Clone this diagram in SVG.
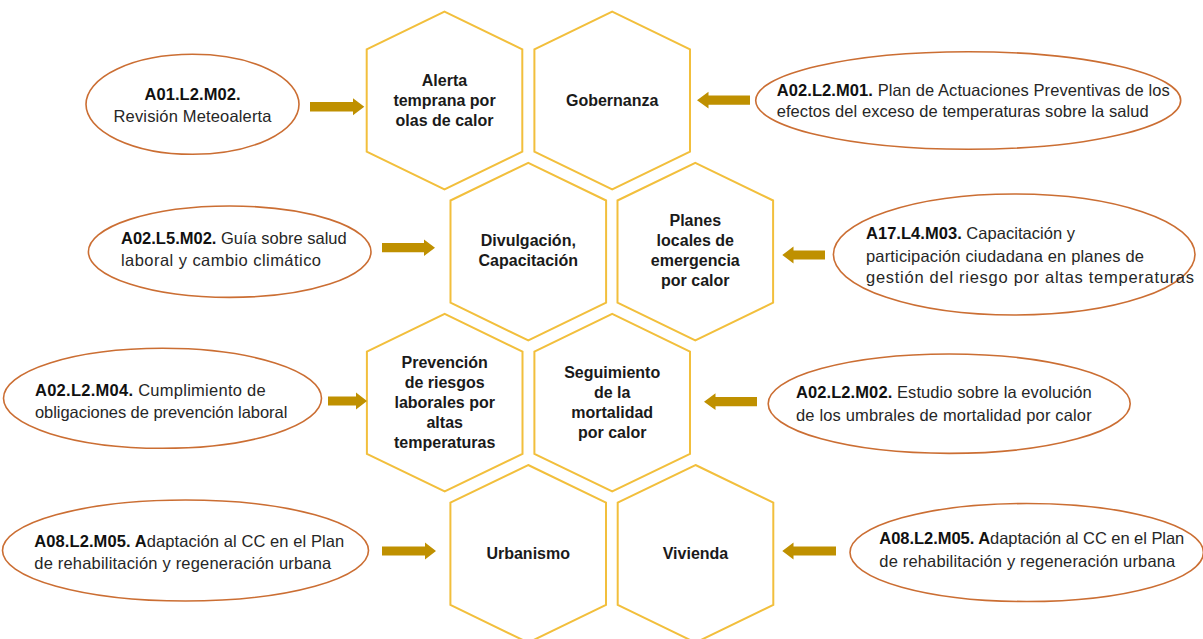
<svg xmlns="http://www.w3.org/2000/svg" xmlns:xlink="http://www.w3.org/1999/xlink" width="1203" height="639" viewBox="0 0 1203 639">
<style>
.hex{fill:#fff;stroke:#F2BF3C;stroke-width:2}
.ell{fill:#fff;stroke:#CB6E33;stroke-width:1.6}
.arr{fill:#BF9000}
.ht{font-family:"Liberation Sans",Arial,sans-serif;font-size:16px;font-weight:bold;fill:#1a1a1a;text-anchor:middle}
.et{font-family:"Liberation Sans",Arial,sans-serif;font-size:16.5px;fill:#262626}
.b{font-weight:bold;fill:#111}
</style>
<defs>
<polygon id="hex" points="0,-88.8 77.8,-51.1 77.8,51.1 0,88.8 -77.8,51.1 -77.8,-51.1"/>
<polygon id="arrR" points="0,-4.6 -11.5,-4.6 -11.5,-8.5 0,0"/>
</defs>
<rect width="1203" height="639" fill="#fff"/>

<g id="hex-alerta"><use xlink:href="#hex" class="hex" x="444.5" y="100.5"/>
<text class="ht" x="444.5" y="86">Alerta<tspan x="444.5" y="106">temprana por</tspan><tspan x="444.5" y="126">olas de calor</tspan></text></g>
<g id="hex-gobernanza"><use xlink:href="#hex" class="hex" x="612.2" y="100.5"/>
<text class="ht" x="612.2" y="106">Gobernanza</text></g>
<g id="hex-divulgacion"><use xlink:href="#hex" class="hex" x="528.3" y="251.6"/>
<text class="ht" x="528.3" y="246">Divulgación,<tspan x="528.3" y="266">Capacitación</tspan></text></g>
<g id="hex-planes"><use xlink:href="#hex" class="hex" x="695.3" y="251.6"/>
<text class="ht" x="695.3" y="226">Planes<tspan x="695.3" y="246">locales de</tspan><tspan x="695.3" y="266">emergencia</tspan><tspan x="695.3" y="286">por calor</tspan></text></g>
<g id="hex-prevencion"><use xlink:href="#hex" class="hex" x="444.7" y="402.7"/>
<text class="ht" x="444.7" y="367.7">Prevención<tspan x="444.7" y="387.7">de riesgos</tspan><tspan x="444.7" y="407.7">laborales por</tspan><tspan x="444.7" y="427.7">altas</tspan><tspan x="444.7" y="447.7">temperaturas</tspan></text></g>
<g id="hex-seguimiento"><use xlink:href="#hex" class="hex" x="612.2" y="402.7"/>
<text class="ht" x="612.2" y="377.7">Seguimiento<tspan x="612.2" y="397.7">de la</tspan><tspan x="612.2" y="417.7">mortalidad</tspan><tspan x="612.2" y="437.7">por calor</tspan></text></g>
<g id="hex-urbanismo"><use xlink:href="#hex" class="hex" x="528.2" y="553.8"/>
<text class="ht" x="528.2" y="559.3">Urbanismo</text></g>
<g id="hex-vivienda"><use xlink:href="#hex" class="hex" x="695.5" y="553.8"/>
<text class="ht" x="695.5" y="559.3">Vivienda</text></g>

<g id="ell-a01l2m02"><ellipse class="ell" cx="192.5" cy="104.3" rx="106.5" ry="50"/>
<text class="et b" x="192.5" y="100" text-anchor="middle" textLength="96" lengthAdjust="spacing">A01.L2.M02.</text>
<text class="et" x="192.5" y="121.7" text-anchor="middle" textLength="158" lengthAdjust="spacing">Revisión Meteoalerta</text></g>

<g id="ell-a02l2m01"><ellipse class="ell" cx="968.2" cy="100.5" rx="212.5" ry="48.8"/>
<text class="et" x="776.7" y="95.7" textLength="393" lengthAdjust="spacing"><tspan class="b">A02.L2.M01.</tspan> Plan de Actuaciones Preventivas de los</text>
<text class="et" x="776.7" y="116.7" textLength="372" lengthAdjust="spacing">efectos del exceso de temperaturas sobre la salud</text></g>

<g id="ell-a02l5m02"><ellipse class="ell" cx="229.7" cy="251.7" rx="141.3" ry="45.7"/>
<text class="et" x="121" y="244" textLength="225.7" lengthAdjust="spacing"><tspan class="b">A02.L5.M02.</tspan> Guía sobre salud</text>
<text class="et" x="121" y="266" textLength="200" lengthAdjust="spacing">laboral y cambio climático</text></g>

<g id="ell-a17l4m03"><ellipse class="ell" cx="1014.2" cy="254.5" rx="180.8" ry="60.5"/>
<text class="et" x="866" y="239" textLength="209" lengthAdjust="spacing"><tspan class="b">A17.L4.M03.</tspan> Capacitación y</text>
<text class="et" x="866" y="261.7" textLength="278" lengthAdjust="spacing">participación ciudadana en planes de</text>
<text class="et" x="866" y="283.3" textLength="328" lengthAdjust="spacing">gestión del riesgo por altas temperaturas</text></g>

<g id="ell-a02l2m04"><ellipse class="ell" cx="162.5" cy="398.3" rx="159" ry="50"/>
<text class="et" x="35" y="396" textLength="230.7" lengthAdjust="spacing"><tspan class="b">A02.L2.M04.</tspan> Cumplimiento de</text>
<text class="et" x="35" y="418.3" textLength="252.3" lengthAdjust="spacing">obligaciones de prevención laboral</text></g>

<g id="ell-a02l2m02"><ellipse class="ell" cx="949.2" cy="403.7" rx="181" ry="49.7"/>
<text class="et" x="796" y="398.3" textLength="295.7" lengthAdjust="spacing"><tspan class="b">A02.L2.M02.</tspan> Estudio sobre la evolución</text>
<text class="et" x="796" y="421" textLength="295.7" lengthAdjust="spacing">de los umbrales de mortalidad por calor</text></g>

<g id="ell-a08l2m05-left"><ellipse class="ell" cx="185.5" cy="550.5" rx="183" ry="50.5"/>
<text class="et" x="34.3" y="546.7" textLength="310" lengthAdjust="spacing"><tspan class="b">A08.L2.M05. A</tspan>daptación al CC en el Plan</text>
<text class="et" x="34.3" y="569" textLength="297" lengthAdjust="spacing">de rehabilitación y regeneración urbana</text></g>

<g id="ell-a08l2m05-right"><ellipse class="ell" cx="1026.7" cy="552.5" rx="176.7" ry="49"/>
<text class="et" x="879.3" y="544.3" textLength="305" lengthAdjust="spacing"><tspan class="b">A08.L2.M05. A</tspan>daptación al CC en el Plan</text>
<text class="et" x="879.3" y="566.7" textLength="296" lengthAdjust="spacing">de rehabilitación y regeneración urbana</text></g>

<g id="connectors">
<polygon class="arr" points="310,102 353,102 353,98.2 364.3,106.7 353,115.2 353,111.4 310,111.4"/>
<polygon class="arr" points="382,243.1 424,243.1 424,239.4 435,247.7 424,256 424,252.3 382,252.3"/>
<polygon class="arr" points="328,396.4 356,396.4 356,392.6 367,401 356,409.4 356,405.6 328,405.6"/>
<polygon class="arr" points="382,546.4 425,546.4 425,542.6 436,551 425,559.4 425,555.6 382,555.6"/>
<polygon class="arr" points="750,95.4 708.5,95.4 708.5,91.7 697,100.2 708.5,108.5 708.5,104.8 750,104.8"/>
<polygon class="arr" points="825,250.4 793.5,250.4 793.5,246.6 782.3,255 793.5,263.4 793.5,259.6 825,259.6"/>
<polygon class="arr" points="757,397.1 715.5,397.1 715.5,393.3 704,401.7 715.5,410.1 715.5,406.3 757,406.3"/>
<polygon class="arr" points="836,546.4 793.5,546.4 793.5,542.6 782.3,551 793.5,559.4 793.5,555.6 836,555.6"/>
</g>
</svg>
